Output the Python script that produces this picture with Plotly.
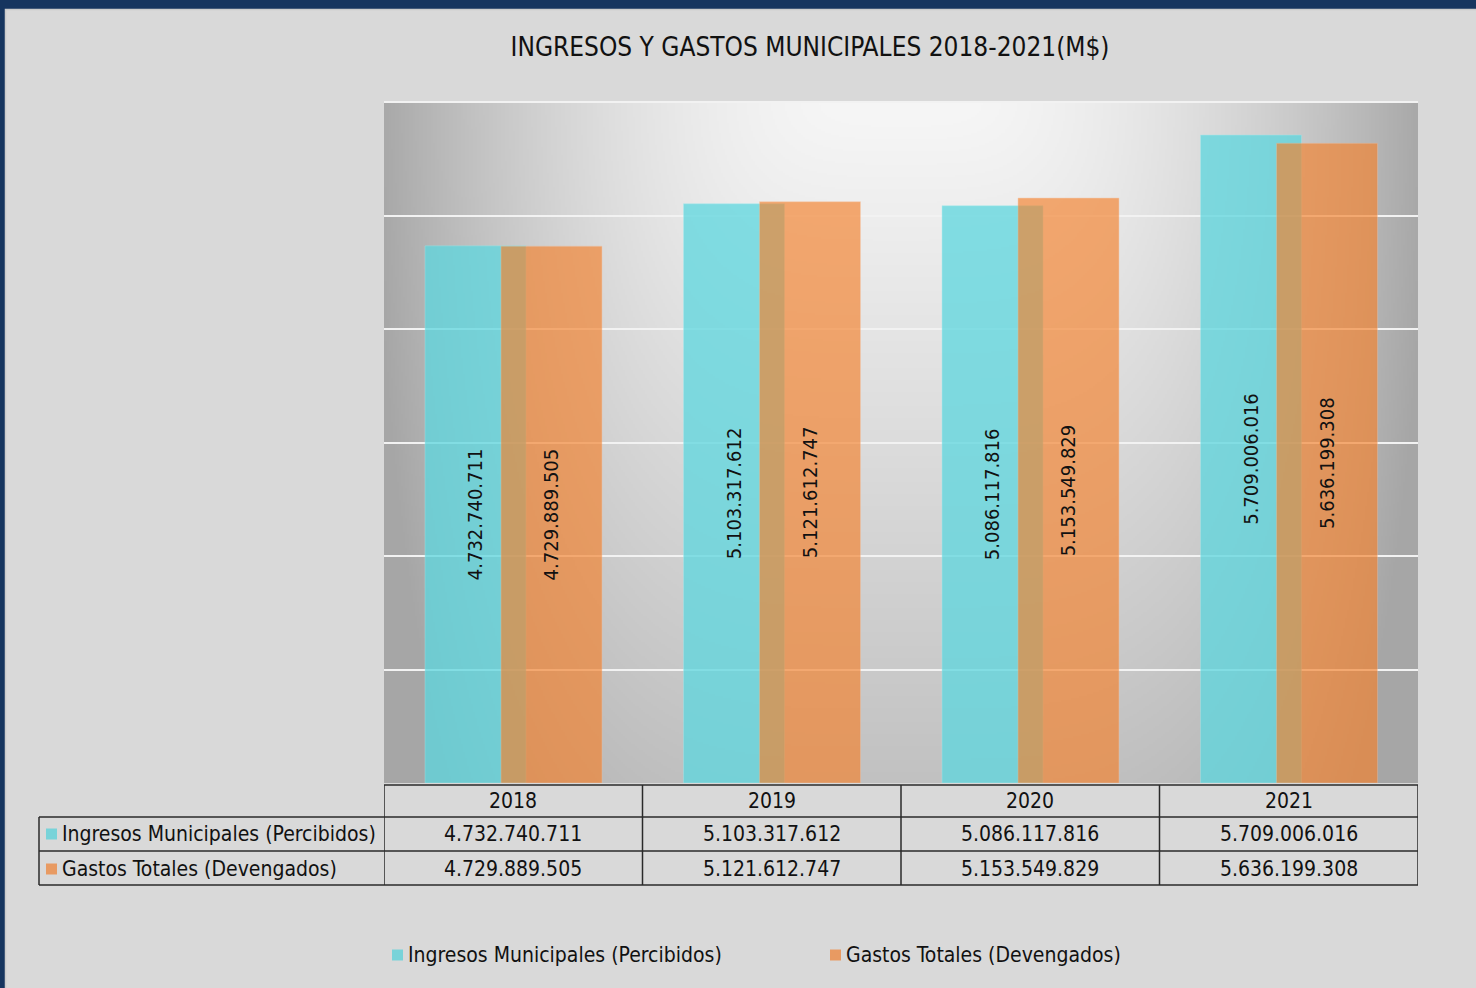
import base64
import struct
import zlib

import numpy as np
import plotly.graph_objects as go

# ---------------- data ----------------
years = ["2018", "2019", "2020", "2021"]
series_names = ["Ingresos Municipales (Percibidos)", "Gastos Totales (Devengados)"]
ingresos = [4732740711, 5103317612, 5086117816, 5709006016]
gastos = [4729889505, 5121612747, 5153549829, 5636199308]
title_text = "INGRESOS Y GASTOS MUNICIPALES 2018-2021(M$)"

# ---------------- helpers ----------------
W, H = 1476, 988
L, R, T, B = 384, 58, 102, 205
PW, PH = W - L - R, H - T - B


def px(x):
    return (x - L) / PW


def py(y):
    return (H - B - y) / PH


def fmt(v):
    return f"{v:,}".replace(",", ".")


def png_uri(arr):
    h, w = arr.shape
    raw = b"".join(b"\x00" + arr[i].tobytes() for i in range(h))

    def chunk(tag, data):
        c = struct.pack(">I", len(data)) + tag + data
        return c + struct.pack(">I", zlib.crc32(tag + data) & 0xFFFFFFFF)

    png = b"\x89PNG\r\n\x1a\n"
    png += chunk(b"IHDR", struct.pack(">IIBBBBB", w, h, 8, 0, 0, 0, 0))
    png += chunk(b"IDAT", zlib.compress(raw, 9))
    png += chunk(b"IEND", b"")
    return "data:image/png;base64," + base64.b64encode(png).decode()


# gradient background for the plot area (light at top centre, grey at corners)
gw, gh = PW // 2, PH // 2
xx = (np.arange(gw) + 0.5) / gw * PW
yy = (np.arange(gh) + 0.5) / gh * PH
X, Y = np.meshgrid(xx, yy)
dx = np.abs(X - PW * 0.5)
hterm = 78.0 * (dx / (PW * 0.5)) ** 2
vterm = 0.079 * Y
grad = np.clip(247.0 - np.sqrt(hterm ** 2 + vterm ** 2), 166, 245).astype(np.uint8)
grad_uri = png_uri(grad)

CYAN = "rgb(93,215,223)"
ORANGE = "rgb(245,129,43)"
CYAN_SHOW = "#78D3D9"
ORANGE_SHOW = "#E89A62"
FONT = "DejaVu Sans Condensed, DejaVu Sans, sans-serif"
TXT = "#111111"

bw = 0.3907
fig = go.Figure()
fig.add_trace(go.Bar(
    x=years, y=ingresos, name=series_names[0],
    width=bw, offset=-0.3414,
    marker=dict(color=CYAN, opacity=0.75, line=dict(width=1, color="rgba(160,235,240,0.5)")),
    text=[fmt(v) for v in ingresos], textposition="inside", insidetextanchor="middle",
    textangle=-90, textfont=dict(family=FONT, size=20, color=TXT),
    showlegend=False, hoverinfo="skip",
))
fig.add_trace(go.Bar(
    x=years, y=gastos, name=series_names[1],
    width=bw, offset=-0.0474,
    marker=dict(color=ORANGE, opacity=0.65, line=dict(width=1, color="rgba(250,190,150,0.5)")),
    text=[fmt(v) for v in gastos], textposition="inside", insidetextanchor="middle",
    textangle=-90, textfont=dict(family=FONT, size=20, color=TXT),
    showlegend=False, hoverinfo="skip",
))

shapes = []
annotations = []

# navy frame bands
shapes.append(dict(type="rect", xref="paper", yref="paper", x0=px(0), x1=px(W), y0=py(0), y1=py(9),
                   fillcolor="#16355F", line=dict(width=0), layer="below"))
shapes.append(dict(type="rect", xref="paper", yref="paper", x0=px(0), x1=px(5), y0=py(0), y1=py(H),
                   fillcolor="#16355F", line=dict(width=0), layer="below"))
shapes.append(dict(type="rect", xref="paper", yref="paper", x0=px(5.5), x1=px(W + 5), y0=py(9.5), y1=py(H + 5),
                   fillcolor="rgba(0,0,0,0)", line=dict(width=1.5, color="#CBCBCB"), layer="below"))

# top border line of the plot area (gridline at range end)
shapes.append(dict(type="line", xref="paper", yref="paper", x0=0, x1=1, y0=1, y1=1,
                   line=dict(color="#F2F2F2", width=2)))

# data table
LINE = dict(color="#2A2A2A", width=1.5)
rows_y = [785, 817, 851, 885]
shapes.append(dict(type="line", xref="x", yref="paper", x0=-0.5, x1=3.5, y0=py(rows_y[0]), y1=py(rows_y[0]), line=LINE))
for ry in rows_y[1:]:
    shapes.append(dict(type="line", xref="paper", yref="paper", x0=px(39), x1=1, y0=py(ry), y1=py(ry), line=LINE))
shapes.append(dict(type="line", xref="paper", yref="paper", x0=px(39), x1=px(39), y0=py(rows_y[1]), y1=py(rows_y[3]), line=LINE))
for i in range(len(years) + 1):
    shapes.append(dict(type="line", xref="x", yref="paper", x0=i - 0.5, x1=i - 0.5,
                       y0=py(rows_y[0]), y1=py(rows_y[3]), line=LINE))

TFS = 21
row_centers = [801, 834, 869]
for i, yr in enumerate(years):
    annotations.append(dict(xref="x", yref="paper", x=i, y=py(row_centers[0]), text=yr, showarrow=False,
                            font=dict(family=FONT, size=TFS, color=TXT), xanchor="center", yanchor="middle"))
    annotations.append(dict(xref="x", yref="paper", x=i, y=py(row_centers[1]), text=fmt(ingresos[i]), showarrow=False,
                            font=dict(family=FONT, size=TFS, color=TXT), xanchor="center", yanchor="middle"))
    annotations.append(dict(xref="x", yref="paper", x=i, y=py(row_centers[2]), text=fmt(gastos[i]), showarrow=False,
                            font=dict(family=FONT, size=TFS, color=TXT), xanchor="center", yanchor="middle"))

for name, col, cy in [(series_names[0], CYAN_SHOW, row_centers[1]), (series_names[1], ORANGE_SHOW, row_centers[2])]:
    shapes.append(dict(type="rect", xref="paper", yref="paper", x0=px(46), x1=px(57), y0=py(cy + 5.5), y1=py(cy - 5.5),
                       fillcolor=col, line=dict(width=0)))
    annotations.append(dict(xref="paper", yref="paper", x=px(60), y=py(cy), text=name, showarrow=False,
                            font=dict(family=FONT, size=TFS, color=TXT), xanchor="left", yanchor="middle"))

# legend
leg_y = 955
for name, col, lx in [(series_names[0], CYAN_SHOW, 392), (series_names[1], ORANGE_SHOW, 830)]:
    shapes.append(dict(type="rect", xref="paper", yref="paper", x0=px(lx), x1=px(lx + 11),
                       y0=py(leg_y + 5.5), y1=py(leg_y - 5.5), fillcolor=col, line=dict(width=0)))
    annotations.append(dict(xref="paper", yref="paper", x=px(lx + 14), y=py(leg_y), text=name, showarrow=False,
                            font=dict(family=FONT, size=TFS, color=TXT), xanchor="left", yanchor="middle"))

fig.update_layout(
    width=W, height=H,
    margin=dict(l=L, r=R, t=T, b=B, pad=0),
    paper_bgcolor="#D9D9D9",
    plot_bgcolor="rgba(0,0,0,0)",
    barmode="overlay",
    showlegend=False,
    hovermode=False,
    title=dict(text=title_text, xref="container", yref="container", x=810 / W, y=1 - 47 / H,
               xanchor="center", yanchor="middle", font=dict(family=FONT, size=26, color=TXT)),
    xaxis=dict(type="category", range=[-0.5, 3.5], showticklabels=False, showgrid=False,
               zeroline=False, showline=False, ticks=""),
    yaxis=dict(range=[0, 6e9], dtick=1e9, showticklabels=False, showgrid=True, gridcolor="#F2F2F2",
               gridwidth=2, zeroline=False, showline=False, ticks=""),
    images=[dict(source=grad_uri, xref="paper", yref="paper", x=0, y=1, sizex=1, sizey=1,
                 sizing="stretch", xanchor="left", yanchor="top", layer="below")],
    shapes=shapes,
    annotations=annotations,
)

fig.write_html(
    "out.html",
    config={"displayModeBar": False},
    post_script="document.body.style.margin='0';document.body.style.overflow='hidden';",
)
